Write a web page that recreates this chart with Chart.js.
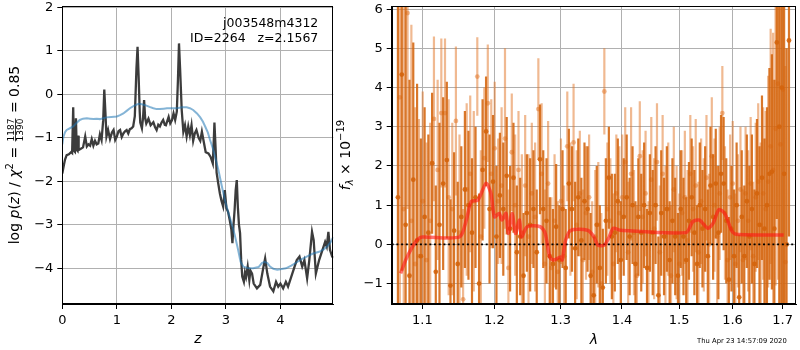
<!DOCTYPE html>
<html><head><meta charset="utf-8">
<script src="https://cdn.jsdelivr.net/npm/chart.js@4/dist/chart.umd.min.js"></script>
<style>
html,body{margin:0;padding:0;background:#fff;width:800px;height:350px;overflow:hidden;}
#c1{position:absolute;left:0;top:0;}
#c2{position:absolute;left:335px;top:0;}
</style></head><body>
<canvas id="c1" width="340" height="350"></canvas>
<canvas id="c2" width="465" height="350"></canvas>
<script>
// ---------------- Left panel data: log p(z) ----------------
const zDark = [0.00,0.03,0.05,0.08,0.12,0.16,0.18,0.20,0.215,0.23,
0.25,0.265,0.28,0.29,0.30,0.34,0.38,0.42,0.45,0.48,
0.51,0.54,0.57,0.60,0.63,0.66,0.69,0.72,0.75,0.77,
0.79,0.81,0.84,0.875,0.91,0.94,0.97,1.00,1.03,1.06,
1.09,1.12,1.15,1.18,1.21,1.24,1.27,1.30,1.33,1.36,
1.38,1.40,1.42,1.43,1.46,1.48,1.50,1.52,1.54,1.58,
1.62,1.67,1.70,1.73,1.76,1.79,1.82,1.85,1.88,1.90,
1.95,1.98,2.01,2.04,2.07,2.10,2.12,2.14,2.16,2.19,
2.22,2.25,2.28,2.31,2.34,2.37,2.40,2.43,2.46,2.50,
2.53,2.56,2.60,2.63,2.68,2.72,2.76,2.78,2.79,2.81,
2.83,2.86,2.89,2.92,2.95,2.98,3.01,3.04,3.07,3.10,
3.12,3.14,3.16,3.18,3.20,3.22,3.24,3.26,3.28,3.30,
3.33,3.35,3.37,3.40,3.43,3.45,3.48,3.51,3.57,3.63,
3.69,3.72,3.76,3.81,3.87,3.92,3.96,4.00,4.05,4.10,
4.14,4.20,4.26,4.30,4.35,4.40,4.44,4.49,4.53,4.58,
4.61,4.65,4.71,4.77,4.82,4.85,4.88,4.91,4.95,4.98];
const logpDark = [-1.82,-1.62,-1.50,-1.40,-1.38,-1.33,-1.35,-0.30,-1.30,-1.32,
-0.55,-1.28,-1.30,-0.95,-1.28,-1.25,-1.22,-0.97,-1.20,-1.15,
-1.18,-1.03,-1.18,-1.07,-1.15,-1.13,-0.92,-1.05,-0.60,0.11,
-0.40,-0.97,-0.82,-1.03,-0.88,-0.82,-1.05,-0.97,-0.85,-0.82,
-0.98,-0.90,-0.85,-0.82,-0.90,-0.80,-0.78,-0.74,-0.50,0.60,
1.09,0.40,-0.40,-0.65,-0.78,-0.55,-0.13,-0.55,-0.67,-0.56,
-0.71,-0.64,-0.75,-0.82,-0.70,-0.74,-0.65,-0.59,-0.70,-0.71,
-0.52,-0.67,-0.60,-0.44,-0.59,-0.40,0.30,1.17,0.60,-0.36,
-0.86,-0.71,-0.97,-0.74,-0.94,-0.71,-1.07,-0.90,-0.82,-1.00,
-1.07,-0.86,-1.13,-1.33,-1.36,-1.44,-1.59,-1.00,-0.65,-1.20,
-1.80,-2.05,-2.28,-2.45,-2.58,-2.20,-2.62,-2.70,-2.89,-3.10,
-3.42,-3.00,-2.66,-2.20,-1.97,-2.60,-3.00,-3.19,-3.80,-4.19,
-4.31,-4.10,-4.20,-3.96,-4.27,-4.05,-4.12,-4.35,-4.46,-4.38,
-3.96,-3.77,-4.12,-4.42,-4.53,-4.31,-4.42,-4.35,-4.46,-4.31,
-4.42,-4.19,-3.96,-3.81,-3.73,-3.96,-3.81,-4.23,-3.81,-3.16,
-3.35,-4.12,-3.81,-3.58,-3.39,-3.50,-3.16,-3.58,-3.73,-3.75];
const zSmooth = [0.00,0.02,0.05,0.08,0.14,0.20,0.26,0.32,0.38,0.45,
0.51,0.57,0.63,0.69,0.75,0.81,0.90,1.00,1.06,1.12,
1.18,1.24,1.32,1.40,1.46,1.52,1.60,1.67,1.73,1.79,
1.86,1.92,2.00,2.10,2.20,2.28,2.34,2.40,2.47,2.53,
2.58,2.62,2.67,2.71,2.76,2.80,2.86,2.92,2.98,3.04,
3.10,3.16,3.22,3.27,3.32,3.40,3.50,3.60,3.66,3.71,
3.76,3.81,3.87,3.94,4.00,4.10,4.20,4.30,4.40,4.50,
4.60,4.71,4.80,4.87,4.92,4.97];
const logpSmooth = [-1.15,-0.98,-0.87,-0.82,-0.78,-0.74,-0.66,-0.59,-0.56,-0.55,
-0.56,-0.57,-0.56,-0.57,-0.55,-0.53,-0.52,-0.51,-0.48,-0.44,
-0.38,-0.32,-0.26,-0.22,-0.23,-0.25,-0.29,-0.32,-0.34,-0.34,
-0.33,-0.32,-0.32,-0.32,-0.30,-0.30,-0.32,-0.36,-0.44,-0.53,
-0.63,-0.74,-0.88,-1.05,-1.24,-1.43,-1.72,-2.08,-2.42,-2.70,
-2.95,-3.22,-3.55,-3.85,-3.96,-3.99,-4.00,-3.97,-3.88,-3.85,
-3.88,-3.96,-4.01,-4.03,-4.02,-4.00,-3.94,-3.86,-3.78,-3.72,
-3.66,-3.62,-3.56,-3.48,-3.40,-3.28];
const zTicks = [0,1,2,3,4];
const logpTicks = [-4,-3,-2,-1,0,1,2];
const zRange = [0, 4.97];
const logpRange = [-4.82, 2.03];

// ---------------- Right panel data: spectrum ----------------
const lamA = [1.068,1.073,1.078,1.083,1.088,1.093,1.098,1.103,1.108,1.113,
1.118,1.123,1.128,1.133,1.138,1.143,1.148,1.153,1.158,1.163,
1.168,1.173,1.178,1.183,1.188,1.193,1.198,1.203,1.208,1.213,
1.218,1.223,1.228,1.233,1.238,1.243,1.248,1.253,1.258,1.263,
1.268,1.273,1.278,1.283,1.288,1.293,1.298,1.303,1.308,1.313,
1.318,1.323,1.328,1.333,1.338,1.343,1.348,1.353,1.358,1.363,
1.368,1.373,1.378,1.383,1.388,1.393,1.398,1.403,1.408,1.413,
1.418,1.423,1.428,1.433,1.438,1.443,1.448,1.453,1.458,1.463,
1.468,1.473,1.478,1.483,1.488,1.493,1.498,1.503,1.508,1.513,
1.518,1.523,1.528,1.533,1.538,1.543,1.548,1.553,1.558,1.563,
1.568,1.573,1.578,1.583,1.588,1.593,1.598,1.603,1.608,1.613,
1.618,1.623,1.628,1.633,1.638,1.643,1.648,1.653,1.658,1.663,
1.668,1.673,1.678,1.683,1.688,1.693,1.698,1.703,1.708,1.713];
const fluxA = [1.2,4.33,0.5,-0.8,1.65,0.1,-0.3,0.7,0.3,2.07,
-0.7,0.5,1.55,2.15,-1.05,0.35,-0.5,0.7,1.4,1.0,
0.3,1.2,-1.0,1.9,2.88,0.9,1.6,0.2,1.25,0.9,
1.75,0.4,1.7,-0.2,0.2,-0.8,0.8,0.5,0.9,-0.2,
2.17,0.9,0.6,-0.3,-0.5,0.45,-0.4,0.9,-0.6,1.55,
0.9,-0.1,1.2,0.1,1.1,0.9,-0.8,-1.3,0.5,-0.6,
-1.1,0.6,1.7,0.2,0.3,1.1,-0.4,0.7,1.2,0.2,
1.0,-0.5,0.7,0.3,1.0,-0.6,0.8,0.3,1.0,-1.3,
0.8,0.2,0.9,-0.4,0.6,0.2,-0.8,0.9,0.2,-0.4,
0.6,1.2,0.3,-0.5,1.0,0.4,0.9,-0.3,1.5,0.7,
1.55,0.3,1.8,1.55,0.6,-0.9,0.4,-0.3,1.0,-1.35,
0.7,-0.3,1.1,0.2,0.9,-0.5,1.3,0.5,1.7,0.4,
1.0,1.8,1.85,0.4,5.15,3.0,4.0,1.8,0.0,5.2];
const errA = [6,5,6,5,3.5,4,3,2.8,2.5,1.8,
2.2,2.6,2.2,2.0,2.2,2.0,2.1,1.8,2.0,1.9,
1.9,1.8,2.3,1.8,1.4,1.9,1.7,1.8,1.6,1.7,
1.5,1.6,1.4,1.7,1.5,1.6,1.5,1.7,1.5,1.6,
1.4,1.5,1.6,1.5,1.4,1.6,1.4,1.5,1.5,1.4,
1.6,1.7,1.5,1.6,1.5,1.6,1.6,1.5,1.5,1.6,
1.5,1.6,1.3,1.6,1.5,1.6,1.5,1.5,1.6,1.5,
1.5,1.6,1.5,1.5,1.6,1.5,1.5,1.6,1.5,1.5,
1.6,1.5,1.6,1.5,1.6,1.5,1.6,1.5,1.5,1.6,
1.5,1.5,1.6,1.5,1.6,1.5,1.6,1.7,1.5,1.6,
1.4,1.7,1.5,1.7,1.6,1.6,1.6,1.7,1.6,1.6,
1.7,1.8,1.7,1.8,1.9,1.9,1.9,2.0,2.1,2.3,
2.5,2.7,3.0,3.8,4.5,5,6,6,5,5];
const lamB = [1.0705,1.0755,1.0805,1.0855,1.0905,1.0955,1.1005,1.1055,1.1105,1.1155,
1.1205,1.1255,1.1305,1.1355,1.1405,1.1455,1.1505,1.1555,1.1605,1.1655,
1.1705,1.1755,1.1805,1.1855,1.1905,1.1955,1.2005,1.2055,1.2105,1.2155,
1.2205,1.2255,1.2305,1.2355,1.2405,1.2455,1.2505,1.2555,1.2605,1.2655,
1.2705,1.2755,1.2805,1.2855,1.2905,1.2955,1.3005,1.3055,1.3105,1.3155,
1.3205,1.3255,1.3305,1.3355,1.3405,1.3455,1.3505,1.3555,1.3605,1.3655,
1.3705,1.3755,1.3805,1.3855,1.3905,1.3955,1.4005,1.4055,1.4105,1.4155,
1.4205,1.4255,1.4305,1.4355,1.4405,1.4455,1.4505,1.4555,1.4605,1.4655,
1.4705,1.4755,1.4805,1.4855,1.4905,1.4955,1.5005,1.5055,1.5105,1.5155,
1.5205,1.5255,1.5305,1.5355,1.5405,1.5455,1.5505,1.5555,1.5605,1.5655,
1.5705,1.5755,1.5805,1.5855,1.5905,1.5955,1.6005,1.6055,1.6105,1.6155,
1.6205,1.6255,1.6305,1.6355,1.6405,1.6455,1.6505,1.6555,1.6605,1.6655,
1.6705,1.6755,1.6805,1.6855,1.6905,1.6955,1.7005,1.7055];
const fluxB = [3.75,0.9,5.9,0.6,-0.5,-0.3,1.1,-0.4,0.6,3.2,
1.9,3.35,3.35,1.2,0.9,3.15,0.3,-1.4,1.4,1.8,
1.1,4.28,0.2,2.2,3.6,1.8,2.45,1.1,1.5,2.7,
-0.6,2.35,1.0,1.9,0.3,1.5,0.2,1.3,0.7,3.45,
1.8,-0.5,1.55,-0.6,0.6,-0.7,1.1,-0.3,2.5,0.9,
2.6,0.5,1.3,-0.4,0.8,1.2,-0.7,0.2,0.5,-1.0,
3.9,0.9,0.6,-0.5,1.3,0.8,1.2,2.1,-0.2,1.8,
0.3,-0.8,2.25,0.7,1.3,-0.6,1.65,0.4,2.1,-0.2,
1.8,0.2,0.9,-0.8,1.4,0.3,-0.5,0.8,1.2,0.1,
1.8,0.9,1.5,-0.2,1.1,0.5,1.7,0.0,2.25,1.0,
0.2,1.3,3.35,0.8,-0.4,1.2,1.55,-0.5,0.6,1.4,
-0.4,1.3,0.6,1.55,-0.3,1.2,1.6,0.5,1.3,0.9,
1.6,2.5,1.9,2.95,4.1,2.55,3.95,-0.45];
const errB = [6,6,5,5,4,3.5,2.8,3,2.5,2.1,
2.3,1.9,1.9,2.5,2.2,1.9,2.5,2.3,2.2,2.0,
2.3,1.0,2.2,1.8,1.5,1.9,1.7,1.6,2.0,2.3,
2.0,1.5,1.8,1.5,2.0,1.8,2.1,1.8,1.9,1.3,
1.8,1.9,1.6,1.8,1.7,1.8,1.6,1.8,1.4,1.7,
1.5,1.9,1.6,1.8,1.7,1.6,1.8,1.7,1.6,1.8,
1.1,1.7,1.6,1.8,1.5,1.7,1.6,1.4,1.8,1.7,
1.6,1.8,1.4,1.7,1.6,1.7,1.6,1.8,1.5,1.7,
1.5,1.8,1.7,1.8,1.6,1.7,1.8,1.6,1.7,1.8,
1.5,1.6,1.7,1.8,1.6,1.7,1.6,1.8,1.5,1.7,
1.8,1.7,1.2,1.7,1.8,1.6,1.6,1.8,1.7,1.6,
1.8,1.7,1.8,1.7,1.9,1.9,2.0,2.1,2.2,2.5,
2.7,3.0,3.5,4,5,6,6,5];
const lamModel = [1.0715,1.078,1.0857,1.094,1.100,1.1505,1.160,1.1668,1.1765,1.188,
1.195,1.200,1.207,1.211,1.217,1.2205,1.226,1.231,1.237,1.240,
1.2485,1.2685,1.276,1.283,1.289,1.300,1.3025,1.308,1.316,1.343,
1.3535,1.360,1.3705,1.3785,1.3855,1.398,1.5125,1.525,1.5375,1.553,
1.563,1.574,1.585,1.598,1.607,1.702];
const fluxModel = [-0.74,-0.40,-0.10,0.13,0.19,0.19,0.62,1.09,1.13,1.56,
1.30,0.70,0.79,0.62,0.79,0.28,0.79,0.28,0.62,0.19,
0.45,0.45,0.28,-0.32,-0.40,-0.32,-0.40,0.11,0.36,0.36,
0.19,-0.02,-0.02,0.19,0.41,0.36,0.30,0.58,0.62,0.41,
0.54,0.89,0.79,0.36,0.26,0.24];
const lamTicks = [1.1,1.2,1.3,1.4,1.5,1.6,1.7];
const fluxTicks = [-1,0,1,2,3,4,5,6];
const lamRange = [1.06, 1.7276];
const fluxRange = [-1.52, 6.08];
const zeroLevel = 0;

// ---------------- helpers ----------------
Chart.defaults.font.family = '"DejaVu Sans"';
Chart.defaults.color = '#000';
const FN = '14px "DejaVu Sans"', FI = 'italic 14px "DejaVu Sans"';
const toXY = (xs, ys) => xs.map((x, i) => ({x: x, y: ys[i]}));

function richWidth(ctx, segs){
  let w = 0;
  for (const s of segs){
    ctx.font = s.f;
    if (s.frac){ w += Math.max(ctx.measureText(s.frac[0]).width, ctx.measureText(s.frac[1]).width) + 2; }
    else w += ctx.measureText(s.t).width;
  }
  return w;
}
function drawRich(ctx, segs, x, y){
  ctx.save();
  ctx.translate(x, y); ctx.rotate(-Math.PI/2);
  ctx.textAlign = 'left'; ctx.textBaseline = 'alphabetic'; ctx.fillStyle = '#000';
  const W = richWidth(ctx, segs);
  let cx = -W/2;
  for (const s of segs){
    ctx.font = s.f;
    if (s.frac){
      const wn = ctx.measureText(s.frac[0]).width, wd = ctx.measureText(s.frac[1]).width, w = Math.max(wn, wd);
      const x0 = cx + 1;
      ctx.fillText(s.frac[0], x0 + (w - wn)/2, s.numY);
      ctx.fillText(s.frac[1], x0 + (w - wd)/2, s.denY);
      ctx.fillRect(x0, s.barY - 0.4, w, 0.8);
      cx += w + 2;
    } else {
      ctx.fillText(s.t, cx, s.dy || 0);
      cx += ctx.measureText(s.t).width;
    }
  }
  ctx.restore();
}

const framePlugin = {
  id: 'frame',
  afterDatasetsDraw(chart){
    const {ctx, chartArea: a} = chart;
    ctx.save();
    ctx.strokeStyle = '#000'; ctx.lineWidth = 1;
    const l = Math.round(a.left) + 0.5, r = Math.round(a.right) - 0.5, t = Math.round(a.top) + 0.5, b = Math.round(a.bottom) - 0.5;
    ctx.strokeRect(l, t, r - l, b - t);
    ctx.restore();
  }
};

function fixedScale(ticksArr, size, isX){
  return {
    afterBuildTicks: s => { s.ticks = ticksArr.map(v => ({value: v})); },
    afterFit: s => {
      if (isX){ s.height = size; s.paddingLeft = 0; s.paddingRight = 0; }
      else { s.width = size; s.paddingTop = 0; s.paddingBottom = 0; }
    }
  };
}
const gridOpts = {color: '#b0b0b0', lineWidth: 1, tickColor: '#000', tickLength: 5, drawTicks: true};
const borderOpts = {display: true, color: '#000', width: 1};
const tickFont = {family: '"DejaVu Sans"', size: 13};

// ---------------- Left chart ----------------
const leftText = {
  id: 'leftText',
  afterDraw(chart){
    const {ctx, chartArea: a} = chart;
    ctx.save();
    ctx.fillStyle = '#000';
    ctx.font = '12.5px "DejaVu Sans"';
    ctx.textAlign = 'right'; ctx.textBaseline = 'alphabetic';
    ctx.fillText('j003548m4312', a.right - 15, a.top + 21);
    ctx.fillText('ID=2264   z=2.1567', a.right - 15, a.top + 35.7);
    ctx.font = FI; ctx.textAlign = 'center';
    ctx.fillText('z', (a.left + a.right)/2, 343);
    ctx.restore();
    drawRich(ctx, [
      {t: 'log ', f: FN}, {t: 'p', f: FI}, {t: '(', f: FN}, {t: 'z', f: FI}, {t: ')', f: FN},
      {t: ' / ', f: FN}, {t: 'χ', f: FI}, {t: '2', f: '10px "DejaVu Sans"', dy: -6},
      {t: ' = ', f: FN},
      {frac: ['1187', '1390'], f: '9px "DejaVu Sans"', numY: -4.6, denY: 3.9, barY: -3.6},
      {t: ' = 0.85', f: FN}
    ], 19, (a.top + a.bottom)/2);
  }
};

new Chart(document.getElementById('c1'), {
  type: 'scatter',
  data: {
    datasets: [
      {data: toXY(zSmooth, logpSmooth), showLine: true, borderColor: 'rgba(31,119,180,0.55)', borderWidth: 2, pointRadius: 0, order: 1},
      {data: toXY(zDark, logpDark), showLine: true, borderColor: '#3c3c3c', borderWidth: 2.3, pointRadius: 0, order: 2}
    ]
  },
  options: {
    responsive: false, animation: false, devicePixelRatio: 1, events: [],
    layout: {padding: {left: 0, top: 6, right: 6.7, bottom: 0}},
    plugins: {legend: {display: false}, tooltip: {enabled: false}},
    scales: {
      x: Object.assign({type: 'linear', min: zRange[0], max: zRange[1], grid: gridOpts, border: borderOpts,
        ticks: {font: tickFont, color: '#000', padding: 4, maxRotation: 0, autoSkip: false, callback: v => String(v)}}, fixedScale(zTicks, 46, true)),
      y: Object.assign({type: 'linear', min: logpRange[0], max: logpRange[1], grid: gridOpts, border: borderOpts,
        ticks: {font: tickFont, color: '#000', padding: 4, autoSkip: false, callback: v => (v < 0 ? '\u2212' + Math.abs(v) : String(v))}}, fixedScale(logpTicks, 62.3, false))
    }
  },
  plugins: [framePlugin, leftText]
});

// ---------------- Right chart ----------------
const errorBars = {
  id: 'errorBars',
  beforeDatasetDraw(chart, args){
    const ds = chart.data.datasets[args.index];
    if (!ds.errors) return;
    const {ctx, chartArea: a, scales: {x, y}} = chart;
    ctx.save();
    ctx.beginPath(); ctx.rect(a.left, a.top, a.right - a.left, a.bottom - a.top); ctx.clip();
    ctx.strokeStyle = ds.barColor; ctx.lineWidth = ds.barWidth; ctx.lineCap = 'butt';
    ctx.beginPath();
    ds.data.forEach((p, j) => {
      const px = x.getPixelForValue(p.x);
      ctx.moveTo(px, y.getPixelForValue(p.y - ds.errors[j]));
      ctx.lineTo(px, y.getPixelForValue(p.y + ds.errors[j]));
    });
    ctx.stroke();
    ctx.restore();
  },
  afterDatasetDraw(chart, args){
    if (!chart.data.datasets[args.index].zeroAfter) return;
    const {ctx, chartArea: a, scales: {y}} = chart;
    const py = y.getPixelForValue(zeroLevel);
    ctx.save();
    ctx.strokeStyle = '#000'; ctx.lineWidth = 1.6; ctx.setLineDash([2, 2.7]);
    ctx.beginPath(); ctx.moveTo(a.left, py); ctx.lineTo(a.right, py); ctx.stroke();
    ctx.restore();
  }
};

const rightText = {
  id: 'rightText',
  afterDraw(chart){
    const {ctx, chartArea: a} = chart;
    ctx.save();
    ctx.fillStyle = '#000';
    ctx.font = FI; ctx.textAlign = 'center'; ctx.textBaseline = 'alphabetic';
    ctx.fillText('λ', (a.left + a.right)/2, 344);
    ctx.font = '6.8px "DejaVu Sans"'; ctx.textAlign = 'right';
    ctx.fillText('Thu Apr 23 14:57:09 2020', 451.7, 342.5);
    ctx.restore();
    drawRich(ctx, [
      {t: 'f', f: FI}, {t: 'λ', f: 'italic 10px "DejaVu Sans"', dy: 3},
      {t: ' × 10', f: FN}, {t: '\u221219', f: '10px "DejaVu Sans"', dy: -6}
    ], 15, (a.top + a.bottom)/2);
  }
};

new Chart(document.getElementById('c2'), {
  type: 'scatter',
  data: {
    datasets: [
      {type: 'line', data: toXY(lamModel, fluxModel), borderColor: 'rgba(255,20,20,0.6)', borderWidth: 3.5, pointRadius: 0, tension: 0.25, order: 1},
      {data: toXY(lamA, fluxA), errors: errA, barColor: 'rgba(212,100,12,0.88)', barWidth: 2.2, zeroAfter: true,
        pointRadius: 2.4, pointBackgroundColor: 'rgba(212,100,12,0.9)', pointBorderWidth: 0, order: 2},
      {data: toXY(lamB, fluxB), errors: errB, barColor: 'rgba(226,115,35,0.5)', barWidth: 2.2,
        pointRadius: 2.4, pointBackgroundColor: 'rgba(226,115,35,0.5)', pointBorderWidth: 0, order: 3}
    ]
  },
  options: {
    responsive: false, animation: false, devicePixelRatio: 1, events: [],
    layout: {padding: {left: 0, top: 6, right: 1, bottom: 0}},
    plugins: {legend: {display: false}, tooltip: {enabled: false}},
    scales: {
      x: Object.assign({type: 'logarithmic', min: lamRange[0], max: lamRange[1], grid: gridOpts, border: borderOpts,
        ticks: {font: tickFont, color: '#000', padding: 4, maxRotation: 0, autoSkip: false, callback: v => Number(v).toFixed(1)}}, fixedScale(lamTicks, 46, true)),
      y: Object.assign({type: 'linear', min: fluxRange[0], max: fluxRange[1], grid: gridOpts, border: borderOpts,
        ticks: {font: tickFont, color: '#000', padding: 4, autoSkip: false, callback: v => (v < 0 ? '\u2212' + Math.abs(v) : String(v))}}, fixedScale(fluxTicks, 56.7, false))
    }
  },
  plugins: [framePlugin, errorBars, rightText]
});
</script>
</body></html>
